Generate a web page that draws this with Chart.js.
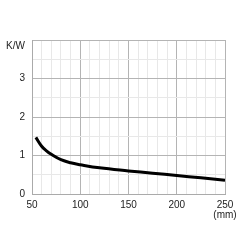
<!DOCTYPE html>
<html>
<head>
<meta charset="utf-8">
<script src="https://cdn.jsdelivr.net/npm/chart.js@4/dist/chart.umd.min.js"></script>
<style>
  html, body { margin: 0; padding: 0; background: #fff; }
  #wrap { width: 250px; height: 250px; }
</style>
</head>
<body>
<div id="wrap"><canvas id="lineChart" width="250" height="250"></canvas></div>
<script>
// thermal resistance (K/W) against length (mm)
var lengths = [54, 60, 65, 70, 80, 90, 100, 120, 150, 175, 200, 225, 250];
var resistance = [1.47, 1.24, 1.12, 1.03, 0.89, 0.81, 0.76, 0.68, 0.60, 0.54, 0.48, 0.42, 0.36];
var xTickLabels = [50, 100, 150, 200, 250];
var yTickLabels = [0, 1, 2, 3];

function buildPoints() {
    var pts = [];
    for (var i = 0; i < lengths.length; i++) {
        pts.push({x: lengths[i], y: resistance[i]});
    }
    return pts;
}

var textColor = '#222';
var font = {family: '"Liberation Sans", Arial, sans-serif', size: 10};

var chart = new Chart(document.getElementById('lineChart'), {
    type: 'line',
    data: {
        datasets: [{
            data: buildPoints(),
            borderColor: '#000',
            borderWidth: 3,
            pointRadius: 0,
            fill: false,
            tension: 0.4
        }]
    },
    options: {
        responsive: false,
        animation: false,
        layout: {padding: {top: 40, right: 25, left: 0, bottom: 0}},
        plugins: {legend: {display: false}, tooltip: {enabled: false}},
        scales: {
            x: {
                type: 'linear',
                min: 50,
                max: 250,
                afterFit: function (axis) { axis.height = 56; },
                border: {color: '#aaa', width: 1},
                grid: {
                    drawTicks: false,
                    color: function (c) {
                        return c.tick.value % 50 === 0 ? '#b4b4b4' : '#e8e8e8';
                    }
                },
                ticks: {
                    stepSize: 10,
                    autoSkip: false,
                    maxRotation: 0,
                    padding: 6,
                    color: textColor,
                    font: {family: font.family, size: 10, lineHeight: 1.0},
                    callback: function (v) {
                        if (xTickLabels.indexOf(v) < 0) return '';
                        if (v === 250) return ['250', '(mm)'];
                        return String(v);
                    }
                }
            },
            y: {
                min: 0,
                max: 4,
                afterFit: function (axis) { axis.width = 32; },
                border: {color: '#aaa', width: 1},
                grid: {
                    drawTicks: false,
                    color: function (c) {
                        return c.tick.value % 1 === 0 ? '#b4b4b4' : '#e8e8e8';
                    }
                },
                ticks: {
                    stepSize: 0.5,
                    autoSkip: false,
                    padding: 7,
                    color: textColor,
                    font: font,
                    callback: function (v) {
                        // unit sits a little below the top line, as in the original
                        if (v === 4) return ['', 'K/W'];
                        return yTickLabels.indexOf(v) >= 0 ? String(v) : '';
                    }
                }
            }
        }
    }
});
</script>
</body>
</html>
